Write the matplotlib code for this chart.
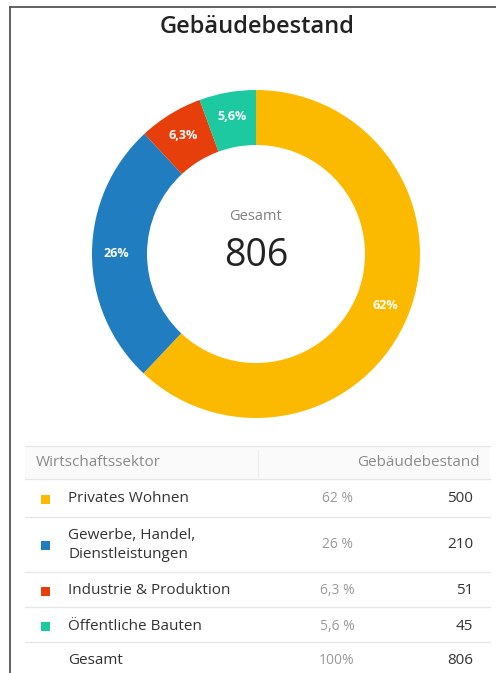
import numpy as np
import matplotlib.pyplot as plt
from matplotlib.patches import Rectangle

plt.rcParams['font.family'] = ['Open Sans', 'DejaVu Sans']

# data
sectors = ["Privates Wohnen", "Gewerbe, Handel,\nDienstleistungen",
           "Industrie & Produktion", "Öffentliche Bauten"]
counts = [500, 210, 51, 45]
pct_labels = ["62%", "26%", "6,3%", "5,6%"]
table_pcts = ["62 %", "26 %", "6,3 %", "5,6 %"]
colors = ["#FBBA00", "#1F7DC0", "#E63F0C", "#1DC9A0"]
total = sum(counts)

W, H = 496, 673
fig = plt.figure(figsize=(W / 100, H / 100), dpi=100)
fig.patch.set_facecolor("white")

# donut: centre (256, 254) px, outer radius 164 px
cx, cy, r = 256, 254, 164
half = 170
ax = fig.add_axes([(cx - half) / W, (H - cy - half) / H, 2 * half / W, 2 * half / H])
wedges, _ = ax.pie(counts, colors=colors, startangle=90, counterclock=False,
                   radius=1, wedgeprops=dict(width=55 / r, linewidth=0))
lim = half / r
ax.set_xlim(-lim, lim)
ax.set_ylim(-lim, lim)
ax.set_aspect("equal")
ax.axis("off")

for w, lab in zip(wedges, pct_labels):
    ang = np.deg2rad((w.theta1 + w.theta2) / 2)
    ax.text(0.85 * np.cos(ang), 0.85 * np.sin(ang), lab, color="white",
            fontsize=9, fontweight="bold", ha="center", va="center")

ax.text(0, 0.23, "Gesamt", ha="center", va="center", fontsize=10.5, color="#808080")
ax.text(0, -0.01, str(total), ha="center", va="center", fontsize=27, color="#222222")

# overlay in pixel coordinates for title, frame and table
ov = fig.add_axes([0, 0, 1, 1], zorder=-1)
ov.set_xlim(0, W)
ov.set_ylim(H, 0)
ov.axis("off")

ov.plot([10, W], [7, 7], color="#555555", lw=1.3)
ov.plot([10, 10], [7, H], color="#555555", lw=1.3)

fig.text(257 / W, 1 - 27 / H, "Gebäudebestand", ha="center", va="center",
         fontsize=17, fontweight="semibold", color="#222222")

# table
ov.add_patch(Rectangle((25, 446), 465, 33, facecolor="#FAFAFA", edgecolor="none"))
for y in [446, 479, 517, 572, 607, 642]:
    ov.plot([25, 490], [y, y], color="#E6E6E6", lw=0.9)
ov.plot([258, 258], [450, 476], color="#EEEEEE", lw=0.9)

ov.text(36, 463, "Wirtschaftssektor", ha="left", va="center", fontsize=11, color="#8A8A8A")
ov.text(480, 463, "Gebäudebestand", ha="right", va="center", fontsize=11, color="#8A8A8A")

row_y = [499, 545, 591, 626]
for y, name, pct, val, col in zip(row_y, sectors, table_pcts, counts, colors):
    ov.add_patch(Rectangle((41, y - 4.5), 9, 9, facecolor=col, edgecolor="none"))
    ov.text(68, y, name, ha="left", va="center", fontsize=11, color="#333333",
            linespacing=1.45)
    ov.text(337, y, pct, ha="center", va="center", fontsize=10, color="#9A9A9A")
    ov.text(473, y, str(val), ha="right", va="center", fontsize=11, color="#333333")

ov.text(68, 661, "Gesamt", ha="left", va="center", fontsize=11, color="#333333")
ov.text(337, 661, "100%", ha="center", va="center", fontsize=10, color="#9A9A9A")
ov.text(473, 661, str(total), ha="right", va="center", fontsize=11, color="#333333")

fig.savefig("out.png", dpi=100, facecolor="white")
